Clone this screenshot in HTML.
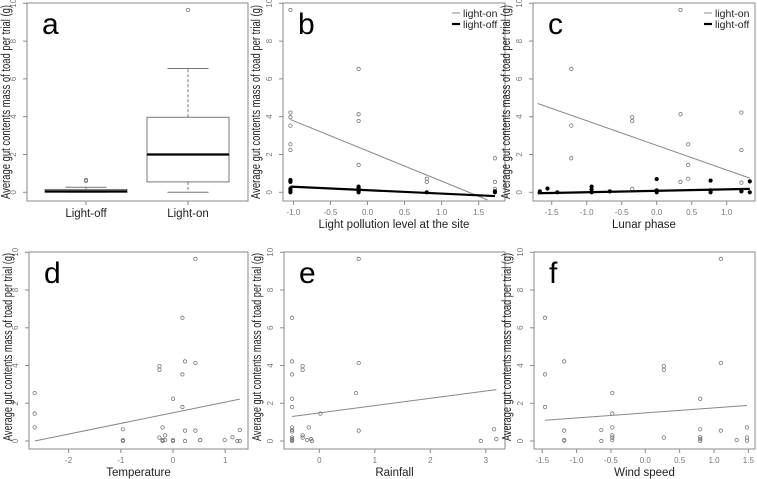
<!DOCTYPE html>
<html><head><meta charset="utf-8"><style>
html,body{margin:0;padding:0;background:#fff;}
svg{display:block;}
text{font-family:"Liberation Sans",sans-serif;}
</style></head><body>
<svg id="fig" width="757" height="479" viewBox="0 0 757 479" xmlns="http://www.w3.org/2000/svg"></svg>
<script>
// ---- Panel a (boxplot) data ----
const aCategories = ["Light-off", "Light-on"];
const aMin = [0, 0];
const aQ1 = [0, 0.55];
const aMedian = [0.05, 2.0];
const aQ3 = [0.15, 3.97];
const aMax = [0.27, 6.55];
const aOutliers = [[0.6, 0.65], [9.65]];
// ---- Panel b ----
const bOnX = [-1.04,-1.04,-1.04,-1.04,-1.04,-1.04,-0.12,-0.12,-0.12,-0.12,0.8,0.8,1.72,1.72,1.72];
const bOnY = [9.65,4.22,3.97,3.53,2.54,2.24,6.53,4.13,3.77,1.45,0.72,0.55,1.8,0.55,0.18];
const bOffX = [-1.04,-1.04,-1.04,-1.04,-1.04,-1.04,-0.12,-0.12,-0.12,-0.12,-0.12,0.8,1.72,1.72];
const bOffY = [0.65,0.6,0.55,0.2,0.1,0.0,0.3,0.2,0.1,0.05,0.0,0.0,0.05,0.0];
const bOnLine = [[-1.04,3.85],[1.62,-0.4]];
const bOffLine = [[-1.04,0.3],[1.72,-0.2]];
// ---- Panel c ----
const cOnX = [-1.22,-1.22,-1.22,-0.35,-0.35,-0.35,0.34,0.34,0.34,0.45,0.45,0.45,1.21,1.21,1.21,1.21];
const cOnY = [6.53,3.53,1.8,3.97,3.77,0.18,9.65,4.13,0.55,2.54,1.45,0.72,4.22,2.24,0.51,0.05];
const cOffX = [-1.67,-1.56,-1.42,-0.93,-0.93,-0.93,-0.67,0.0,0.0,0.0,0.77,0.77,0.77,1.21,1.33,1.33];
const cOffY = [0.05,0.2,0,0.3,0.15,0,0.05,0.7,0.1,0,0.62,0.1,0,0.05,0.58,0];
const cOnLine = [[-1.7,4.7],[1.33,0.75]];
const cOffLine = [[-1.7,-0.05],[1.33,0.18]];
// ---- Panel d ----
const dX = [-2.65,-2.65,-2.65,-0.96,-0.96,-0.96,-0.26,-0.26,-0.26,-0.2,-0.2,-0.2,-0.15,-0.15,0,0,0,0.18,0.18,0.18,0.23,0.23,0.23,0.43,0.43,0.43,0.52,0.52,0.99,1.14,1.23,1.28,1.28];
const dY = [2.54,1.45,0.72,0.62,0.05,0,3.97,3.77,0.18,0.72,0.05,0,0.3,0.05,2.24,0.05,0,6.53,3.53,1.8,4.22,0.55,0,9.65,4.13,0.55,0.05,0.05,0.05,0.2,0,0.58,0];
const dLine = [[-2.65,0],[1.28,2.22]];
// ---- Panel e ----
const eX = [-0.49,-0.49,-0.49,-0.49,-0.49,-0.49,-0.49,-0.49,-0.49,-0.49,-0.49,-0.49,-0.3,-0.3,-0.3,-0.3,-0.22,-0.19,-0.15,-0.13,0.02,0.66,0.71,0.71,0.71,2.91,3.15,3.19];
const eY = [6.53,4.22,3.53,2.24,1.8,0.72,0.58,0.5,0.18,0.1,0.05,0,3.97,3.77,0.3,0.18,0.05,0.72,0.1,0,1.45,2.54,9.65,4.13,0.55,0,0.62,0.1];
const eLine = [[-0.49,1.3],[3.19,2.72]];
// ---- Panel f ----
const fX = [-1.46,-1.46,-1.46,-1.18,-1.18,-1.18,-1.18,-0.64,-0.64,-0.48,-0.48,-0.48,-0.48,-0.48,-0.48,0.27,0.27,0.27,0.8,0.8,0.8,0.8,0.8,1.1,1.1,1.1,1.33,1.48,1.48,1.48];
const fY = [6.53,3.53,1.8,4.22,0.55,0.05,0.02,0.58,0,2.54,1.45,0.72,0.3,0.18,0.05,3.97,3.77,0.18,2.24,0.62,0.2,0.1,0,9.65,4.13,0.55,0.05,0.72,0.18,0.02];
const fLine = [[-1.46,1.1],[1.48,1.88]];
const yTicks = [0,2,4,6,8,10];

const svg = document.getElementById('fig');
const NS = 'http://www.w3.org/2000/svg';
function mk(tag, attrs, parent, txt){
  const e = document.createElementNS(NS, tag);
  for (const k in attrs) e.setAttribute(k, attrs[k]);
  if (txt !== undefined) e.textContent = txt;
  (parent || svg).appendChild(e);
  return e;
}
const YTITLE = 'Average gut contents mass of toad per trial (g)';

function panel(p){
  const g = mk('g', {});
  
  
  const sx = v => p.x0px + (v - p.x0v) * p.xk;
  const sy = v => p.y0px - v * p.yk;
  p.sx = sx; p.sy = sy;
  const fr = mk('rect', {x:p.L, y:p.T, width:p.R-p.L, height:p.B-p.T, fill:'none', stroke:'#8a8a8a', 'stroke-width':1}, g);
  
  
  yTicks.forEach(t => {
    const y = sy(t);
    mk('line', {x1:p.L-4, x2:p.L, y1:y, y2:y, stroke:'#8a8a8a'}, g);
    const tl = mk('text', {x:p.L-11, y:y, 'font-size':8, fill:'#777', 'text-anchor':'middle', transform:`rotate(-90 ${p.L-11} ${y})`}, g, String(t));
    
    
  });
  if (p.xTicks) p.xTicks.forEach((t,i) => {
    const x = sx(t);
    mk('line', {x1:x, x2:x, y1:p.B, y2:p.B+4, stroke:'#8a8a8a'}, g);
    const tl = mk('text', {x:x, y:p.B+14, 'font-size':8, fill:'#777', 'text-anchor':'middle'}, g, p.xTickLabels[i]);
    
    
  });
  const cy = p.ytY;
  const yt = mk('text', {x:p.ytX, y:cy, 'font-size':12.5, fill:'#222', 'text-anchor':'middle', textLength:p.ytLen, lengthAdjust:'spacingAndGlyphs', transform:`rotate(-90 ${p.ytX} ${cy})`}, g, YTITLE);
  
  
  if (p.xTitle) {
    const xt = mk('text', {x:(p.L+p.R)/2, y:p.B+27, 'font-size':11.5, fill:'#222', 'text-anchor':'middle'}, g, p.xTitle);
    
    
  }
  const lt = mk('text', {x:p.L+15, y:p.T+31, 'font-size':30, fill:'#000'}, g, p.id);
  
  
  const cp = mk('clipPath', {id:'clip-'+p.id}, g);
  mk('rect', {x:p.L, y:p.T, width:p.R-p.L, height:p.B-p.T}, cp);
  p.g = g;
  return p;
}
function pts(p, xs, ys, filled, name){
  xs.forEach((xv,i) => {
    const c = mk('circle', {cx:p.sx(xv), cy:p.sy(ys[i]), r:1.7, fill: filled ? '#000' : 'none', stroke: filled ? '#000' : '#777', 'stroke-width':0.8}, p.g);
    
    
  });
}
function line(p, seg, w, col, name){
  const l = mk('line', {x1:p.sx(seg[0][0]), y1:p.sy(seg[0][1]), x2:p.sx(seg[1][0]), y2:p.sy(seg[1][1]), stroke:col, 'stroke-width':w, 'clip-path':`url(#clip-${p.id})`}, p.g);
  
  
}
function legend(p, lx, ly){
  const lg = mk('g', {}, p.g);
  
  
  mk('line', {x1:lx, x2:lx+8, y1:ly, y2:ly, stroke:'#888', 'stroke-width':1}, lg);
  const t1 = mk('text', {x:lx+11, y:ly+4, 'font-size':10.5, fill:'#222'}, lg, 'light-on');
  
  
  mk('line', {x1:lx, x2:lx+8, y1:ly+11, y2:ly+11, stroke:'#000', 'stroke-width':2.2}, lg);
  const t2 = mk('text', {x:lx+11, y:ly+15, 'font-size':10.5, fill:'#222'}, lg, 'light-off');
  
  
}

const TOP = {T:3, B:201, y0px:192.3, yk:18.9, ytY:102, ytLen:194};
const BOT = {T:252, B:449, y0px:441, yk:18.87, ytY:347, ytLen:188};

const pa = panel(Object.assign({id:'a', L:27, R:248, x0v:0, x0px:86, xk:102, ytX:10}, TOP));
aCategories.forEach((c,i) => {
  const x = pa.sx(i), hw = 41, sy = pa.sy;
  const bg = mk('g', {}, pa.g);
  
  
  mk('line', {x1:x, x2:x, y1:sy(aQ3[i]), y2:sy(aMax[i]), stroke:'#777', 'stroke-dasharray':'3,2'}, bg);
  mk('line', {x1:x, x2:x, y1:sy(aQ1[i]), y2:sy(aMin[i]), stroke:'#777', 'stroke-dasharray':'3,2'}, bg);
  mk('line', {x1:x-hw/2, x2:x+hw/2, y1:sy(aMax[i]), y2:sy(aMax[i]), stroke:'#777'}, bg);
  mk('line', {x1:x-hw/2, x2:x+hw/2, y1:sy(aMin[i]), y2:sy(aMin[i]), stroke:'#777'}, bg);
  mk('rect', {x:x-hw, y:sy(aQ3[i]), width:2*hw, height:Math.max(0.5, sy(aQ1[i])-sy(aQ3[i])), fill:'#fff', stroke:'#777'}, bg);
  mk('line', {x1:x-hw, x2:x+hw, y1:sy(aMedian[i]), y2:sy(aMedian[i]), stroke:'#000', 'stroke-width':2.2}, bg);
  aOutliers[i].forEach(o => mk('circle', {cx:x, cy:sy(o), r:1.7, fill:'none', stroke:'#777', 'stroke-width':0.8}, bg));
  mk('line', {x1:x, x2:x, y1:pa.B, y2:pa.B+4, stroke:'#8a8a8a'}, pa.g);
  const cl = mk('text', {x:x, y:217, 'font-size':11.5, fill:'#222', 'text-anchor':'middle'}, pa.g, c);
  
  
});

const pb = panel(Object.assign({id:'b', L:283, R:505, x0v:0, x0px:367.5, xk:74.1, ytX:260,
  xTicks:[-1,-0.5,0,0.5,1,1.5], xTickLabels:['-1.0','-0.5','0.0','0.5','1.0','1.5'], xTitle:'Light pollution level at the site'}, TOP));
pts(pb, bOnX, bOnY, false, 'point-light-on');
pts(pb, bOffX, bOffY, true, 'point-light-off');
line(pb, bOnLine, 1, '#888', 'fit-line-light-on');
line(pb, bOffLine, 2.2, '#000', 'fit-line-light-off');
legend(pb, 452, 13);

const pc = panel(Object.assign({id:'c', L:533, R:755, x0v:0, x0px:656.7, xk:70, ytX:510,
  xTicks:[-1.5,-1,-0.5,0,0.5,1], xTickLabels:['-1.5','-1.0','-0.5','0.0','0.5','1.0'], xTitle:'Lunar phase'}, TOP));
pts(pc, cOnX, cOnY, false, 'point-light-on');
pts(pc, cOffX, cOffY, true, 'point-light-off');
line(pc, cOnLine, 1, '#888', 'fit-line-light-on');
line(pc, cOffLine, 2.2, '#000', 'fit-line-light-off');
legend(pc, 704, 13);

const pd = panel(Object.assign({id:'d', L:29, R:248, x0v:0, x0px:173, xk:52.2, ytX:12,
  xTicks:[-2,-1,0,1], xTickLabels:['-2','-1','0','1'], xTitle:'Temperature'}, BOT));
pts(pd, dX, dY, false, 'point');
line(pd, dLine, 1, '#888', 'fit-line');

const pe = panel(Object.assign({id:'e', L:284, R:505, x0v:0, x0px:319.3, xk:55.5, ytX:261,
  xTicks:[0,1,2,3], xTickLabels:['0','1','2','3'], xTitle:'Rainfall'}, BOT));
pts(pe, eX, eY, false, 'point');
line(pe, eLine, 1, '#888', 'fit-line');

const pf = panel(Object.assign({id:'f', L:534, R:755, x0v:0, x0px:645.3, xk:68.7, ytX:511,
  xTicks:[-1.5,-1,-0.5,0,0.5,1,1.5], xTickLabels:['-1.5','-1.0','-0.5','0.0','0.5','1.0','1.5'], xTitle:'Wind speed'}, BOT));
pts(pf, fX, fY, false, 'point');
line(pf, fLine, 1, '#888', 'fit-line');
</script>
</body></html>
